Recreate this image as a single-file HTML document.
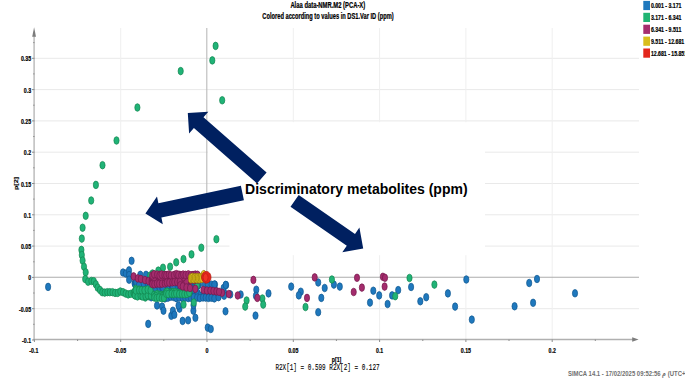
<!DOCTYPE html>
<html><head><meta charset="utf-8"><title>PCA loadings</title>
<style>html,body{margin:0;padding:0;background:#fff;}body{width:685px;height:390px;overflow:hidden;position:relative;font-family:"Liberation Sans",sans-serif;}</style></head>
<body>
<svg width="685" height="390" viewBox="0 0 685 390" style="position:absolute;left:0;top:0">
<rect width="685" height="390" fill="#fff"/>
<g stroke-width="1"><line stroke="#e9e9e9" x1="34.5" x2="639" y1="58.3" y2="58.3"/><line stroke="#e9e9e9" x1="34.5" x2="639" y1="89.6" y2="89.6"/><line stroke="#e9e9e9" x1="34.5" x2="639" y1="120.9" y2="120.9"/><line stroke="#e9e9e9" x1="34.5" x2="639" y1="152.2" y2="152.2"/><line stroke="#e9e9e9" x1="34.5" x2="639" y1="183.5" y2="183.5"/><line stroke="#e9e9e9" x1="34.5" x2="639" y1="214.8" y2="214.8"/><line stroke="#e9e9e9" x1="34.5" x2="639" y1="246.1" y2="246.1"/><line stroke="#e9e9e9" x1="34.5" x2="639" y1="308.7" y2="308.7"/><line stroke="#efefef" y1="28" y2="339.5" x1="120.7" x2="120.7"/><line stroke="#efefef" y1="28" y2="339.5" x1="293.3" x2="293.3"/><line stroke="#efefef" y1="28" y2="339.5" x1="379.6" x2="379.6"/><line stroke="#efefef" y1="28" y2="339.5" x1="465.9" x2="465.9"/><line stroke="#efefef" y1="28" y2="339.5" x1="552.2" x2="552.2"/></g>
<rect x="229.5" y="122.2" width="255.5" height="133" fill="#fff"/>
<rect x="207.8" y="122.2" width="30" height="50" fill="#fff"/>
<line stroke="#adadad" stroke-width="1.1" x1="34.5" x2="639" y1="277.3" y2="277.3"/><line stroke="#bababa" stroke-width="1.1" x1="206.8" x2="206.8" y1="28" y2="339.5"/>
<g stroke="#8c8c8c" stroke-width="1"><line stroke="#b8b8b8" stroke-width="1.4" x1="34.1" x2="34.1" y1="34" y2="340"/><line stroke="#b0b0b0" stroke-width="1.3" x1="33.4" x2="633" y1="339.5" y2="339.5"/><line x1="32" x2="34.5" y1="58.3" y2="58.3"/><line x1="32" x2="34.5" y1="89.6" y2="89.6"/><line x1="32" x2="34.5" y1="120.9" y2="120.9"/><line x1="32" x2="34.5" y1="152.2" y2="152.2"/><line x1="32" x2="34.5" y1="183.5" y2="183.5"/><line x1="32" x2="34.5" y1="214.8" y2="214.8"/><line x1="32" x2="34.5" y1="246.1" y2="246.1"/><line x1="32" x2="34.5" y1="277.4" y2="277.4"/><line x1="32" x2="34.5" y1="308.7" y2="308.7"/><line x1="32" x2="34.5" y1="340.0" y2="340.0"/><line x1="33.2" x2="34.5" y1="42.6" y2="42.6"/><line x1="33.2" x2="34.5" y1="73.9" y2="73.9"/><line x1="33.2" x2="34.5" y1="105.2" y2="105.2"/><line x1="33.2" x2="34.5" y1="136.5" y2="136.5"/><line x1="33.2" x2="34.5" y1="167.8" y2="167.8"/><line x1="33.2" x2="34.5" y1="199.1" y2="199.1"/><line x1="33.2" x2="34.5" y1="230.4" y2="230.4"/><line x1="33.2" x2="34.5" y1="261.8" y2="261.8"/><line x1="33.2" x2="34.5" y1="293.0" y2="293.0"/><line x1="33.2" x2="34.5" y1="324.3" y2="324.3"/><line y1="339.5" y2="342" x1="34.4" x2="34.4"/><line y1="339.5" y2="342" x1="120.7" x2="120.7"/><line y1="339.5" y2="342" x1="207.0" x2="207.0"/><line y1="339.5" y2="342" x1="293.3" x2="293.3"/><line y1="339.5" y2="342" x1="379.6" x2="379.6"/><line y1="339.5" y2="342" x1="465.9" x2="465.9"/><line y1="339.5" y2="342" x1="552.2" x2="552.2"/><line y1="339.5" y2="341" x1="77.6" x2="77.6"/><line y1="339.5" y2="341" x1="163.8" x2="163.8"/><line y1="339.5" y2="341" x1="250.2" x2="250.2"/><line y1="339.5" y2="341" x1="336.4" x2="336.4"/><line y1="339.5" y2="341" x1="422.8" x2="422.8"/><line y1="339.5" y2="341" x1="509.0" x2="509.0"/><line y1="339.5" y2="341" x1="595.3" x2="595.3"/></g>
<path d="M34.1 27.3 L32.2 36.7 L36 36.7 Z" fill="#7c7c7c"/>
<path d="M638.6 339.5 L632.2 337.3 L632.2 341.7 Z" fill="#7c7c7c"/>
<g fill="#1f78bd" stroke="#10578f" stroke-width="0.7"><ellipse cx="48.1" cy="286.9" rx="2.6" ry="3.8"/><ellipse cx="131.6" cy="260.8" rx="2.6" ry="3.8"/><ellipse cx="123" cy="272.5" rx="2.6" ry="3.8"/><ellipse cx="125.8" cy="273.5" rx="2.6" ry="3.8"/><ellipse cx="129" cy="270.4" rx="2.6" ry="3.8"/><ellipse cx="129.1" cy="275.1" rx="2.6" ry="3.8"/><ellipse cx="129.1" cy="279.7" rx="2.6" ry="3.8"/><ellipse cx="148.2" cy="323.9" rx="2.6" ry="3.8"/><ellipse cx="157" cy="305.5" rx="2.6" ry="3.8"/><ellipse cx="162.1" cy="306.6" rx="2.6" ry="3.8"/><ellipse cx="163.5" cy="310.7" rx="2.6" ry="3.8"/><ellipse cx="171.3" cy="315.8" rx="2.6" ry="3.8"/><ellipse cx="172.9" cy="310.7" rx="2.6" ry="3.8"/><ellipse cx="174.4" cy="314.7" rx="2.6" ry="3.8"/><ellipse cx="179.5" cy="308.6" rx="2.6" ry="3.8"/><ellipse cx="178.5" cy="305.5" rx="2.6" ry="3.8"/><ellipse cx="182.6" cy="320.9" rx="2.6" ry="3.8"/><ellipse cx="188.1" cy="320.3" rx="2.6" ry="3.8"/><ellipse cx="193.4" cy="310.7" rx="2.6" ry="3.8"/><ellipse cx="195.4" cy="317.8" rx="2.6" ry="3.8"/><ellipse cx="193.5" cy="305" rx="2.6" ry="3.8"/><ellipse cx="207.7" cy="327.6" rx="2.6" ry="3.8"/><ellipse cx="210.8" cy="329" rx="2.6" ry="3.8"/><ellipse cx="225.5" cy="311.3" rx="2.6" ry="3.8"/><ellipse cx="226.1" cy="285.1" rx="2.6" ry="3.8"/><ellipse cx="240.7" cy="294.5" rx="2.6" ry="3.8"/><ellipse cx="218.3" cy="296.3" rx="2.6" ry="3.8"/><ellipse cx="224.2" cy="292.7" rx="2.6" ry="3.8"/><ellipse cx="218.1" cy="295.8" rx="2.6" ry="3.8"/><ellipse cx="215" cy="284.6" rx="2.6" ry="3.8"/><ellipse cx="230.3" cy="294.4" rx="2.6" ry="3.8"/><ellipse cx="256.3" cy="289.7" rx="2.6" ry="3.8"/><ellipse cx="255.9" cy="295.8" rx="2.6" ry="3.8"/><ellipse cx="268.5" cy="293.4" rx="2.6" ry="3.8"/><ellipse cx="255.5" cy="315.6" rx="2.6" ry="3.8"/><ellipse cx="291.2" cy="286.6" rx="2.6" ry="3.8"/><ellipse cx="300.8" cy="291.7" rx="2.6" ry="3.8"/><ellipse cx="298.8" cy="295.4" rx="2.6" ry="3.8"/><ellipse cx="318.2" cy="282.5" rx="2.6" ry="3.8"/><ellipse cx="324.7" cy="288" rx="2.6" ry="3.8"/><ellipse cx="321.3" cy="297.9" rx="2.6" ry="3.8"/><ellipse cx="318.2" cy="312.2" rx="2.6" ry="3.8"/><ellipse cx="333.9" cy="284.6" rx="2.6" ry="3.8"/><ellipse cx="339.8" cy="286.6" rx="2.6" ry="3.8"/><ellipse cx="373.3" cy="290.7" rx="2.6" ry="3.8"/><ellipse cx="370" cy="302.6" rx="2.6" ry="3.8"/><ellipse cx="379.2" cy="295.4" rx="2.6" ry="3.8"/><ellipse cx="387.6" cy="304" rx="2.6" ry="3.8"/><ellipse cx="392.1" cy="295.4" rx="2.6" ry="3.8"/><ellipse cx="398.2" cy="290.1" rx="2.6" ry="3.8"/><ellipse cx="411.1" cy="287" rx="2.6" ry="3.8"/><ellipse cx="420.3" cy="301.3" rx="2.6" ry="3.8"/><ellipse cx="426.2" cy="297.2" rx="2.6" ry="3.8"/><ellipse cx="447.9" cy="293.4" rx="2.6" ry="3.8"/><ellipse cx="455.1" cy="306.6" rx="2.6" ry="3.8"/><ellipse cx="466.3" cy="279.5" rx="2.6" ry="3.8"/><ellipse cx="471.8" cy="319.6" rx="2.6" ry="3.8"/><ellipse cx="514.6" cy="306.3" rx="2.6" ry="3.8"/><ellipse cx="529.2" cy="283" rx="2.6" ry="3.8"/><ellipse cx="537" cy="279" rx="2.6" ry="3.8"/><ellipse cx="533.1" cy="302.8" rx="2.6" ry="3.8"/><ellipse cx="575" cy="293.3" rx="2.6" ry="3.8"/><ellipse cx="139.2" cy="282.2" rx="2.6" ry="3.8"/><ellipse cx="144.4" cy="281.8" rx="2.6" ry="3.8"/><ellipse cx="142.6" cy="283.1" rx="2.6" ry="3.8"/><ellipse cx="134.9" cy="283.8" rx="2.6" ry="3.8"/><ellipse cx="134.6" cy="283.5" rx="2.6" ry="3.8"/><ellipse cx="135.1" cy="281.9" rx="2.6" ry="3.8"/><ellipse cx="140.8" cy="285.2" rx="2.6" ry="3.8"/><ellipse cx="136.0" cy="282.5" rx="2.6" ry="3.8"/><ellipse cx="144.0" cy="285.8" rx="2.6" ry="3.8"/><ellipse cx="143.2" cy="283.3" rx="2.6" ry="3.8"/><ellipse cx="149.6" cy="281.7" rx="2.6" ry="3.8"/><ellipse cx="147.7" cy="282.8" rx="2.6" ry="3.8"/><ellipse cx="136.3" cy="282.0" rx="2.6" ry="3.8"/><ellipse cx="138.9" cy="285.2" rx="2.6" ry="3.8"/><ellipse cx="159.0" cy="291.7" rx="2.6" ry="3.8"/><ellipse cx="181.9" cy="288.6" rx="2.6" ry="3.8"/><ellipse cx="177.4" cy="283.9" rx="2.6" ry="3.8"/><ellipse cx="153.0" cy="286.1" rx="2.6" ry="3.8"/><ellipse cx="184.0" cy="289.4" rx="2.6" ry="3.8"/><ellipse cx="165.7" cy="291.8" rx="2.6" ry="3.8"/><ellipse cx="172.7" cy="287.5" rx="2.6" ry="3.8"/><ellipse cx="189.7" cy="293.5" rx="2.6" ry="3.8"/><ellipse cx="162.2" cy="291.6" rx="2.6" ry="3.8"/><ellipse cx="176.3" cy="296.1" rx="2.6" ry="3.8"/><ellipse cx="186.5" cy="287.3" rx="2.6" ry="3.8"/><ellipse cx="199.0" cy="284.8" rx="2.6" ry="3.8"/><ellipse cx="170.9" cy="294.4" rx="2.6" ry="3.8"/><ellipse cx="157.6" cy="290.3" rx="2.6" ry="3.8"/><ellipse cx="152.0" cy="293.0" rx="2.6" ry="3.8"/><ellipse cx="188.2" cy="291.6" rx="2.6" ry="3.8"/><ellipse cx="193.8" cy="287.7" rx="2.6" ry="3.8"/><ellipse cx="184.8" cy="291.9" rx="2.6" ry="3.8"/><ellipse cx="179.0" cy="289.8" rx="2.6" ry="3.8"/><ellipse cx="192.0" cy="297.2" rx="2.6" ry="3.8"/><ellipse cx="173.7" cy="293.0" rx="2.6" ry="3.8"/><ellipse cx="153.0" cy="293.5" rx="2.6" ry="3.8"/><ellipse cx="182.4" cy="297.9" rx="2.6" ry="3.8"/><ellipse cx="191.1" cy="287.3" rx="2.6" ry="3.8"/><ellipse cx="169.3" cy="293.0" rx="2.6" ry="3.8"/><ellipse cx="151.1" cy="289.9" rx="2.6" ry="3.8"/><ellipse cx="158.4" cy="284.8" rx="2.6" ry="3.8"/><ellipse cx="152.9" cy="294.5" rx="2.6" ry="3.8"/><ellipse cx="156.5" cy="286.7" rx="2.6" ry="3.8"/><ellipse cx="169.5" cy="296.1" rx="2.6" ry="3.8"/><ellipse cx="154.0" cy="289.7" rx="2.6" ry="3.8"/><ellipse cx="177.5" cy="296.3" rx="2.6" ry="3.8"/><ellipse cx="191.0" cy="296.0" rx="2.6" ry="3.8"/><ellipse cx="163.9" cy="289.2" rx="2.6" ry="3.8"/><ellipse cx="167.9" cy="296.3" rx="2.6" ry="3.8"/><ellipse cx="197.9" cy="285.3" rx="2.6" ry="3.8"/><ellipse cx="158.8" cy="286.5" rx="2.6" ry="3.8"/><ellipse cx="161.7" cy="290.3" rx="2.6" ry="3.8"/><ellipse cx="179.5" cy="286.9" rx="2.6" ry="3.8"/><ellipse cx="150.2" cy="289.3" rx="2.6" ry="3.8"/><ellipse cx="168.5" cy="291.5" rx="2.6" ry="3.8"/><ellipse cx="197.7" cy="293.4" rx="2.6" ry="3.8"/><ellipse cx="175.8" cy="292.3" rx="2.6" ry="3.8"/><ellipse cx="183.8" cy="283.8" rx="2.6" ry="3.8"/><ellipse cx="195.0" cy="294.7" rx="2.6" ry="3.8"/><ellipse cx="193.7" cy="295.0" rx="2.6" ry="3.8"/><ellipse cx="169.6" cy="289.0" rx="2.6" ry="3.8"/><ellipse cx="155.2" cy="292.5" rx="2.6" ry="3.8"/><ellipse cx="153.1" cy="284.0" rx="2.6" ry="3.8"/><ellipse cx="160.4" cy="285.4" rx="2.6" ry="3.8"/><ellipse cx="167.0" cy="283.8" rx="2.6" ry="3.8"/><ellipse cx="150.0" cy="285.3" rx="2.6" ry="3.8"/><ellipse cx="155.1" cy="288.5" rx="2.6" ry="3.8"/><ellipse cx="151.3" cy="296.1" rx="2.6" ry="3.8"/><ellipse cx="180.7" cy="285.2" rx="2.6" ry="3.8"/><ellipse cx="162.6" cy="288.2" rx="2.6" ry="3.8"/><ellipse cx="168.2" cy="284.8" rx="2.6" ry="3.8"/><ellipse cx="192.4" cy="297.9" rx="2.6" ry="3.8"/><ellipse cx="173.3" cy="290.3" rx="2.6" ry="3.8"/><ellipse cx="154.3" cy="284.5" rx="2.6" ry="3.8"/><ellipse cx="167.1" cy="287.0" rx="2.6" ry="3.8"/><ellipse cx="191.4" cy="285.4" rx="2.6" ry="3.8"/><ellipse cx="151.2" cy="297.3" rx="2.6" ry="3.8"/><ellipse cx="176.4" cy="285.2" rx="2.6" ry="3.8"/><ellipse cx="177.2" cy="283.4" rx="2.6" ry="3.8"/><ellipse cx="176.4" cy="297.7" rx="2.6" ry="3.8"/><ellipse cx="193.2" cy="293.4" rx="2.6" ry="3.8"/><ellipse cx="163.1" cy="288.5" rx="2.6" ry="3.8"/><ellipse cx="158.4" cy="294.6" rx="2.6" ry="3.8"/><ellipse cx="176.6" cy="294.7" rx="2.6" ry="3.8"/><ellipse cx="195.9" cy="288.3" rx="2.6" ry="3.8"/><ellipse cx="210.3" cy="296.3" rx="2.6" ry="3.8"/><ellipse cx="211.6" cy="294.5" rx="2.6" ry="3.8"/><ellipse cx="210.5" cy="293.8" rx="2.6" ry="3.8"/><ellipse cx="192.8" cy="291.4" rx="2.6" ry="3.8"/><ellipse cx="196.7" cy="286.3" rx="2.6" ry="3.8"/><ellipse cx="186.8" cy="288.9" rx="2.6" ry="3.8"/><ellipse cx="193.8" cy="293.3" rx="2.6" ry="3.8"/><ellipse cx="214.7" cy="290.7" rx="2.6" ry="3.8"/><ellipse cx="214.1" cy="296.4" rx="2.6" ry="3.8"/><ellipse cx="214.7" cy="289.8" rx="2.6" ry="3.8"/><ellipse cx="192.6" cy="288.4" rx="2.6" ry="3.8"/><ellipse cx="191.9" cy="288.1" rx="2.6" ry="3.8"/><ellipse cx="204.7" cy="295.5" rx="2.6" ry="3.8"/><ellipse cx="211.2" cy="291.0" rx="2.6" ry="3.8"/><ellipse cx="205.6" cy="294.4" rx="2.6" ry="3.8"/><ellipse cx="188.5" cy="292.9" rx="2.6" ry="3.8"/><ellipse cx="213.3" cy="294.2" rx="2.6" ry="3.8"/><ellipse cx="208.5" cy="291.0" rx="2.6" ry="3.8"/><ellipse cx="191.4" cy="294.3" rx="2.6" ry="3.8"/><ellipse cx="196.0" cy="294.4" rx="2.6" ry="3.8"/><ellipse cx="215.1" cy="290.2" rx="2.6" ry="3.8"/><ellipse cx="198.0" cy="295.9" rx="2.6" ry="3.8"/><ellipse cx="207.7" cy="287.8" rx="2.6" ry="3.8"/><ellipse cx="189.8" cy="287.6" rx="2.6" ry="3.8"/><ellipse cx="213.1" cy="294.5" rx="2.6" ry="3.8"/><ellipse cx="190.4" cy="294.7" rx="2.6" ry="3.8"/><ellipse cx="215.4" cy="292.9" rx="2.6" ry="3.8"/><ellipse cx="196.5" cy="291.8" rx="2.6" ry="3.8"/><ellipse cx="189.9" cy="286.1" rx="2.6" ry="3.8"/><ellipse cx="215.1" cy="292.8" rx="2.6" ry="3.8"/><ellipse cx="201.8" cy="295.8" rx="2.6" ry="3.8"/><ellipse cx="199.0" cy="295.2" rx="2.6" ry="3.8"/><ellipse cx="210.8" cy="288.2" rx="2.6" ry="3.8"/><ellipse cx="193.6" cy="289.1" rx="2.6" ry="3.8"/><ellipse cx="193.2" cy="292.2" rx="2.6" ry="3.8"/><ellipse cx="193.8" cy="290.4" rx="2.6" ry="3.8"/><ellipse cx="189.9" cy="295.6" rx="2.6" ry="3.8"/><ellipse cx="196.6" cy="290.8" rx="2.6" ry="3.8"/><ellipse cx="203.5" cy="295.5" rx="2.6" ry="3.8"/><ellipse cx="164.9" cy="298.4" rx="2.6" ry="3.8"/><ellipse cx="167.9" cy="297.7" rx="2.6" ry="3.8"/><ellipse cx="170.8" cy="296.7" rx="2.6" ry="3.8"/><ellipse cx="173.7" cy="297.0" rx="2.6" ry="3.8"/><ellipse cx="176.2" cy="298.1" rx="2.6" ry="3.8"/><ellipse cx="179.2" cy="297.6" rx="2.6" ry="3.8"/><ellipse cx="182.6" cy="297.7" rx="2.6" ry="3.8"/><ellipse cx="185.2" cy="297.6" rx="2.6" ry="3.8"/><ellipse cx="188.2" cy="298.1" rx="2.6" ry="3.8"/><ellipse cx="190.8" cy="297.7" rx="2.6" ry="3.8"/><ellipse cx="193.8" cy="297.2" rx="2.6" ry="3.8"/><ellipse cx="197.1" cy="297.6" rx="2.6" ry="3.8"/><ellipse cx="199.8" cy="298.1" rx="2.6" ry="3.8"/><ellipse cx="203.0" cy="297.5" rx="2.6" ry="3.8"/><ellipse cx="205.7" cy="297.6" rx="2.6" ry="3.8"/><ellipse cx="208.5" cy="297.9" rx="2.6" ry="3.8"/><ellipse cx="211.4" cy="297.7" rx="2.6" ry="3.8"/><ellipse cx="214.3" cy="298.4" rx="2.6" ry="3.8"/><ellipse cx="153.2" cy="288.2" rx="2.6" ry="3.8"/><ellipse cx="156.3" cy="287.2" rx="2.6" ry="3.8"/><ellipse cx="158.8" cy="288.3" rx="2.6" ry="3.8"/><ellipse cx="162.0" cy="287.0" rx="2.6" ry="3.8"/><ellipse cx="164.3" cy="287.5" rx="2.6" ry="3.8"/><ellipse cx="204.7" cy="284.0" rx="2.6" ry="3.8"/><ellipse cx="207.9" cy="284.5" rx="2.6" ry="3.8"/><ellipse cx="211.6" cy="284.7" rx="2.6" ry="3.8"/><ellipse cx="214.3" cy="284.5" rx="2.6" ry="3.8"/><ellipse cx="146" cy="274.8" rx="2.6" ry="3.8"/><ellipse cx="140.3" cy="274.8" rx="2.6" ry="3.8"/><ellipse cx="223.6" cy="288" rx="2.6" ry="3.8"/><ellipse cx="225.7" cy="284.9" rx="2.6" ry="3.8"/><ellipse cx="218.5" cy="297.2" rx="2.6" ry="3.8"/><ellipse cx="224.1" cy="295.7" rx="2.6" ry="3.8"/><ellipse cx="163" cy="288.2" rx="2.6" ry="3.8"/><ellipse cx="173" cy="286.6" rx="2.6" ry="3.8"/><ellipse cx="154.5" cy="288.5" rx="2.6" ry="3.8"/><ellipse cx="155" cy="291" rx="2.6" ry="3.8"/></g>

<g fill="#20b377" stroke="#13854f" stroke-width="0.7"><ellipse cx="215.6" cy="45.9" rx="2.6" ry="3.8"/><ellipse cx="212.3" cy="60.4" rx="2.6" ry="3.8"/><ellipse cx="180.7" cy="71.1" rx="2.6" ry="3.8"/><ellipse cx="222.2" cy="100.3" rx="2.6" ry="3.8"/><ellipse cx="137.4" cy="107.5" rx="2.6" ry="3.8"/><ellipse cx="116.5" cy="140.5" rx="2.6" ry="3.8"/><ellipse cx="102.5" cy="165.2" rx="2.6" ry="3.8"/><ellipse cx="95.9" cy="184.9" rx="2.6" ry="3.8"/><ellipse cx="91.2" cy="200.5" rx="2.6" ry="3.8"/><ellipse cx="85.7" cy="215.8" rx="2.6" ry="3.8"/><ellipse cx="82.6" cy="227.7" rx="2.6" ry="3.8"/><ellipse cx="81.8" cy="238.6" rx="2.6" ry="3.8"/><ellipse cx="81.4" cy="249.9" rx="2.6" ry="3.8"/><ellipse cx="81.8" cy="255" rx="2.6" ry="3.8"/><ellipse cx="82.6" cy="260.6" rx="2.6" ry="3.8"/><ellipse cx="84" cy="266.7" rx="2.6" ry="3.8"/><ellipse cx="85.7" cy="272.3" rx="2.6" ry="3.8"/><ellipse cx="85.2" cy="279.1" rx="2.6" ry="3.8"/><ellipse cx="88.1" cy="281.7" rx="2.6" ry="3.8"/><ellipse cx="91.4" cy="281" rx="2.6" ry="3.8"/><ellipse cx="93.8" cy="281.2" rx="2.6" ry="3.8"/><ellipse cx="95.8" cy="284.3" rx="2.6" ry="3.8"/><ellipse cx="97.6" cy="287.6" rx="2.6" ry="3.8"/><ellipse cx="100" cy="290" rx="2.6" ry="3.8"/><ellipse cx="102.2" cy="292.2" rx="2.6" ry="3.8"/><ellipse cx="104.7" cy="292.6" rx="2.6" ry="3.8"/><ellipse cx="107.3" cy="292.2" rx="2.6" ry="3.8"/><ellipse cx="109.8" cy="292.2" rx="2.6" ry="3.8"/><ellipse cx="112.5" cy="292.2" rx="2.6" ry="3.8"/><ellipse cx="115.1" cy="292.9" rx="2.6" ry="3.8"/><ellipse cx="117.7" cy="292.9" rx="2.6" ry="3.8"/><ellipse cx="120.3" cy="291.5" rx="2.6" ry="3.8"/><ellipse cx="123" cy="292.2" rx="2.6" ry="3.8"/><ellipse cx="125.6" cy="293.5" rx="2.6" ry="3.8"/><ellipse cx="128.2" cy="294.4" rx="2.6" ry="3.8"/><ellipse cx="130.8" cy="293.8" rx="2.6" ry="3.8"/><ellipse cx="133.5" cy="292.9" rx="2.6" ry="3.8"/><ellipse cx="135.7" cy="288.9" rx="2.6" ry="3.8"/><ellipse cx="139.1" cy="289.6" rx="2.6" ry="3.8"/><ellipse cx="142.7" cy="290.9" rx="2.6" ry="3.8"/><ellipse cx="141.4" cy="296.1" rx="2.6" ry="3.8"/><ellipse cx="145.3" cy="297.5" rx="2.6" ry="3.8"/><ellipse cx="148.6" cy="296.1" rx="2.6" ry="3.8"/><ellipse cx="151.2" cy="293.1" rx="2.6" ry="3.8"/><ellipse cx="157.8" cy="294.8" rx="2.6" ry="3.8"/><ellipse cx="161.7" cy="294.8" rx="2.6" ry="3.8"/><ellipse cx="216.4" cy="239.2" rx="2.6" ry="3.8"/><ellipse cx="201.3" cy="247.7" rx="2.6" ry="3.8"/><ellipse cx="191.5" cy="254.4" rx="2.6" ry="3.8"/><ellipse cx="183.5" cy="259.1" rx="2.6" ry="3.8"/><ellipse cx="176.2" cy="262.3" rx="2.6" ry="3.8"/><ellipse cx="170.1" cy="266.7" rx="2.6" ry="3.8"/><ellipse cx="163" cy="267.7" rx="2.6" ry="3.8"/><ellipse cx="158.3" cy="270.6" rx="2.6" ry="3.8"/><ellipse cx="193.8" cy="302.5" rx="2.6" ry="3.8"/><ellipse cx="183.6" cy="304.5" rx="2.6" ry="3.8"/><ellipse cx="246.6" cy="300.5" rx="2.6" ry="3.8"/><ellipse cx="245.2" cy="306.6" rx="2.6" ry="3.8"/><ellipse cx="262.4" cy="298.5" rx="2.6" ry="3.8"/><ellipse cx="263.2" cy="304.6" rx="2.6" ry="3.8"/><ellipse cx="305.5" cy="307" rx="2.6" ry="3.8"/><ellipse cx="331.9" cy="279.5" rx="2.6" ry="3.8"/><ellipse cx="395.2" cy="296.2" rx="2.6" ry="3.8"/><ellipse cx="409.5" cy="278" rx="2.6" ry="3.8"/><ellipse cx="434.4" cy="284.6" rx="2.6" ry="3.8"/><ellipse cx="145.9" cy="290.8" rx="2.6" ry="3.8"/><ellipse cx="149.9" cy="295.4" rx="2.6" ry="3.8"/><ellipse cx="138.0" cy="295.3" rx="2.6" ry="3.8"/><ellipse cx="141.2" cy="292.7" rx="2.6" ry="3.8"/><ellipse cx="151.8" cy="294.7" rx="2.6" ry="3.8"/><ellipse cx="136.9" cy="292.4" rx="2.6" ry="3.8"/><ellipse cx="143.3" cy="291.9" rx="2.6" ry="3.8"/><ellipse cx="137.5" cy="291.8" rx="2.6" ry="3.8"/><ellipse cx="147.0" cy="290.1" rx="2.6" ry="3.8"/><ellipse cx="144.0" cy="292.5" rx="2.6" ry="3.8"/><ellipse cx="134.3" cy="291.9" rx="2.6" ry="3.8"/><ellipse cx="145.2" cy="292.9" rx="2.6" ry="3.8"/><ellipse cx="135.2" cy="295.5" rx="2.6" ry="3.8"/><ellipse cx="148.2" cy="295.4" rx="2.6" ry="3.8"/><ellipse cx="135.9" cy="291.5" rx="2.6" ry="3.8"/><ellipse cx="134.7" cy="294.4" rx="2.6" ry="3.8"/><ellipse cx="134.8" cy="295.3" rx="2.6" ry="3.8"/><ellipse cx="137.5" cy="296.4" rx="2.6" ry="3.8"/><ellipse cx="140.5" cy="295.5" rx="2.6" ry="3.8"/><ellipse cx="142.5" cy="296.4" rx="2.6" ry="3.8"/><ellipse cx="145.5" cy="296.1" rx="2.6" ry="3.8"/><ellipse cx="147.7" cy="295.2" rx="2.6" ry="3.8"/><ellipse cx="150.8" cy="295.7" rx="2.6" ry="3.8"/><ellipse cx="135.7" cy="290.4" rx="2.6" ry="3.8"/><ellipse cx="139.0" cy="290.2" rx="2.6" ry="3.8"/><ellipse cx="141.5" cy="290.3" rx="2.6" ry="3.8"/><ellipse cx="144.4" cy="290.3" rx="2.6" ry="3.8"/><ellipse cx="147.6" cy="289.6" rx="2.6" ry="3.8"/><ellipse cx="150.5" cy="290.4" rx="2.6" ry="3.8"/><ellipse cx="156.8" cy="294.8" rx="2.6" ry="3.8"/><ellipse cx="160.1" cy="295.1" rx="2.6" ry="3.8"/><ellipse cx="154.9" cy="294.9" rx="2.6" ry="3.8"/><ellipse cx="154.1" cy="295.0" rx="2.6" ry="3.8"/><ellipse cx="157.4" cy="295.4" rx="2.6" ry="3.8"/><ellipse cx="163.0" cy="295.3" rx="2.6" ry="3.8"/><ellipse cx="159.8" cy="294.9" rx="2.6" ry="3.8"/><ellipse cx="157.8" cy="294.4" rx="2.6" ry="3.8"/><ellipse cx="156.6" cy="294.4" rx="2.6" ry="3.8"/><ellipse cx="162.7" cy="296.2" rx="2.6" ry="3.8"/><ellipse cx="155.9" cy="296.0" rx="2.6" ry="3.8"/><ellipse cx="165.2" cy="294.7" rx="2.6" ry="3.8"/><ellipse cx="154.3" cy="297.5" rx="2.6" ry="3.8"/><ellipse cx="156.5" cy="298.0" rx="2.6" ry="3.8"/><ellipse cx="158.9" cy="297.6" rx="2.6" ry="3.8"/><ellipse cx="161.7" cy="298.2" rx="2.6" ry="3.8"/><ellipse cx="163.9" cy="298.0" rx="2.6" ry="3.8"/><ellipse cx="183.0" cy="293.1" rx="2.6" ry="3.8"/><ellipse cx="175.7" cy="292.4" rx="2.6" ry="3.8"/><ellipse cx="167.3" cy="291.9" rx="2.6" ry="3.8"/><ellipse cx="167.7" cy="293.4" rx="2.6" ry="3.8"/><ellipse cx="172.1" cy="292.0" rx="2.6" ry="3.8"/><ellipse cx="168.0" cy="293.6" rx="2.6" ry="3.8"/><ellipse cx="186.9" cy="293.2" rx="2.6" ry="3.8"/><ellipse cx="172.8" cy="292.2" rx="2.6" ry="3.8"/><ellipse cx="173.0" cy="292.7" rx="2.6" ry="3.8"/><ellipse cx="169.8" cy="292.7" rx="2.6" ry="3.8"/><ellipse cx="172.3" cy="293.9" rx="2.6" ry="3.8"/><ellipse cx="189.3" cy="292.9" rx="2.6" ry="3.8"/><ellipse cx="171.9" cy="293.9" rx="2.6" ry="3.8"/><ellipse cx="173.4" cy="292.5" rx="2.6" ry="3.8"/><ellipse cx="166.0" cy="292.5" rx="2.6" ry="3.8"/><ellipse cx="177.4" cy="292.8" rx="2.6" ry="3.8"/><ellipse cx="170.8" cy="292.8" rx="2.6" ry="3.8"/><ellipse cx="166.1" cy="292.2" rx="2.6" ry="3.8"/><ellipse cx="168.2" cy="292.6" rx="2.6" ry="3.8"/><ellipse cx="167.0" cy="291.7" rx="2.6" ry="3.8"/><ellipse cx="173.3" cy="292.2" rx="2.6" ry="3.8"/><ellipse cx="180.1" cy="292.9" rx="2.6" ry="3.8"/><ellipse cx="184.0" cy="293.2" rx="2.6" ry="3.8"/><ellipse cx="183.2" cy="293.7" rx="2.6" ry="3.8"/><ellipse cx="175.3" cy="292.4" rx="2.6" ry="3.8"/><ellipse cx="189.6" cy="292.0" rx="2.6" ry="3.8"/><ellipse cx="166.2" cy="293.8" rx="2.6" ry="3.8"/><ellipse cx="168.2" cy="294.1" rx="2.6" ry="3.8"/><ellipse cx="171.5" cy="293.8" rx="2.6" ry="3.8"/><ellipse cx="174.0" cy="294.1" rx="2.6" ry="3.8"/><ellipse cx="176.1" cy="293.6" rx="2.6" ry="3.8"/><ellipse cx="179.0" cy="294.1" rx="2.6" ry="3.8"/><ellipse cx="181.8" cy="294.1" rx="2.6" ry="3.8"/><ellipse cx="184.3" cy="294.2" rx="2.6" ry="3.8"/><ellipse cx="186.9" cy="293.9" rx="2.6" ry="3.8"/><ellipse cx="189.2" cy="292.8" rx="2.6" ry="3.8"/><ellipse cx="185.6" cy="282.8" rx="2.6" ry="3.8"/><ellipse cx="197" cy="285.4" rx="2.6" ry="3.8"/><ellipse cx="152.5" cy="273.5" rx="2.6" ry="3.8"/><ellipse cx="150.2" cy="275.5" rx="2.6" ry="3.8"/></g>

<g fill="#a42c6d" stroke="#74194a" stroke-width="0.7"><ellipse cx="222.1" cy="292.7" rx="2.6" ry="3.8"/><ellipse cx="228.8" cy="294" rx="2.6" ry="3.8"/><ellipse cx="237.7" cy="295.5" rx="2.6" ry="3.8"/><ellipse cx="253.4" cy="279.9" rx="2.6" ry="3.8"/><ellipse cx="257.3" cy="297.9" rx="2.6" ry="3.8"/><ellipse cx="307" cy="297.9" rx="2.6" ry="3.8"/><ellipse cx="314.7" cy="277.4" rx="2.6" ry="3.8"/><ellipse cx="353.7" cy="292" rx="2.6" ry="3.8"/><ellipse cx="357" cy="277.8" rx="2.6" ry="3.8"/><ellipse cx="361.9" cy="287.6" rx="2.6" ry="3.8"/><ellipse cx="382.9" cy="276.8" rx="2.6" ry="3.8"/><ellipse cx="385" cy="277.8" rx="2.6" ry="3.8"/><ellipse cx="384.6" cy="286.6" rx="2.6" ry="3.8"/><ellipse cx="133.6" cy="276.4" rx="2.6" ry="3.8"/><ellipse cx="137.8" cy="278.4" rx="2.6" ry="3.8"/><ellipse cx="140.8" cy="278.9" rx="2.6" ry="3.8"/><ellipse cx="144.9" cy="280" rx="2.6" ry="3.8"/><ellipse cx="148.5" cy="281" rx="2.6" ry="3.8"/><ellipse cx="157.8" cy="278.1" rx="2.6" ry="3.8"/><ellipse cx="156.5" cy="282.5" rx="2.6" ry="3.8"/><ellipse cx="178.0" cy="279.2" rx="2.6" ry="3.8"/><ellipse cx="181.2" cy="279.4" rx="2.6" ry="3.8"/><ellipse cx="174.7" cy="274.9" rx="2.6" ry="3.8"/><ellipse cx="189.4" cy="279.2" rx="2.6" ry="3.8"/><ellipse cx="175.4" cy="278.7" rx="2.6" ry="3.8"/><ellipse cx="182.8" cy="275.3" rx="2.6" ry="3.8"/><ellipse cx="186.5" cy="276.4" rx="2.6" ry="3.8"/><ellipse cx="155.0" cy="277.3" rx="2.6" ry="3.8"/><ellipse cx="186.1" cy="276.1" rx="2.6" ry="3.8"/><ellipse cx="186.6" cy="280.8" rx="2.6" ry="3.8"/><ellipse cx="175.0" cy="277.7" rx="2.6" ry="3.8"/><ellipse cx="174.3" cy="279.9" rx="2.6" ry="3.8"/><ellipse cx="187.9" cy="278.5" rx="2.6" ry="3.8"/><ellipse cx="182.0" cy="275.4" rx="2.6" ry="3.8"/><ellipse cx="158.5" cy="277.1" rx="2.6" ry="3.8"/><ellipse cx="186.8" cy="276.7" rx="2.6" ry="3.8"/><ellipse cx="178.5" cy="275.0" rx="2.6" ry="3.8"/><ellipse cx="154.4" cy="277.4" rx="2.6" ry="3.8"/><ellipse cx="183.4" cy="279.3" rx="2.6" ry="3.8"/><ellipse cx="183.6" cy="276.7" rx="2.6" ry="3.8"/><ellipse cx="176.0" cy="278.2" rx="2.6" ry="3.8"/><ellipse cx="173.7" cy="275.8" rx="2.6" ry="3.8"/><ellipse cx="193.9" cy="276.0" rx="2.6" ry="3.8"/><ellipse cx="198.0" cy="279.5" rx="2.6" ry="3.8"/><ellipse cx="152.3" cy="279.9" rx="2.6" ry="3.8"/><ellipse cx="190.4" cy="280.4" rx="2.6" ry="3.8"/><ellipse cx="172.8" cy="276.9" rx="2.6" ry="3.8"/><ellipse cx="161.5" cy="283.0" rx="2.6" ry="3.8"/><ellipse cx="161.5" cy="279.9" rx="2.6" ry="3.8"/><ellipse cx="158.2" cy="279.6" rx="2.6" ry="3.8"/><ellipse cx="196.8" cy="275.6" rx="2.6" ry="3.8"/><ellipse cx="190.5" cy="277.8" rx="2.6" ry="3.8"/><ellipse cx="193.6" cy="278.7" rx="2.6" ry="3.8"/><ellipse cx="162.5" cy="282.5" rx="2.6" ry="3.8"/><ellipse cx="174.6" cy="275.1" rx="2.6" ry="3.8"/><ellipse cx="151.7" cy="280.2" rx="2.6" ry="3.8"/><ellipse cx="172.9" cy="277.1" rx="2.6" ry="3.8"/><ellipse cx="158.2" cy="278.0" rx="2.6" ry="3.8"/><ellipse cx="166.5" cy="281.7" rx="2.6" ry="3.8"/><ellipse cx="151.6" cy="282.4" rx="2.6" ry="3.8"/><ellipse cx="191.4" cy="275.6" rx="2.6" ry="3.8"/><ellipse cx="195.5" cy="278.6" rx="2.6" ry="3.8"/><ellipse cx="194.3" cy="276.4" rx="2.6" ry="3.8"/><ellipse cx="169.2" cy="278.0" rx="2.6" ry="3.8"/><ellipse cx="198.9" cy="277.7" rx="2.6" ry="3.8"/><ellipse cx="168.6" cy="278.3" rx="2.6" ry="3.8"/><ellipse cx="164.6" cy="275.3" rx="2.6" ry="3.8"/><ellipse cx="156.3" cy="282.5" rx="2.6" ry="3.8"/><ellipse cx="165.1" cy="282.6" rx="2.6" ry="3.8"/><ellipse cx="163.3" cy="277.1" rx="2.6" ry="3.8"/><ellipse cx="175.8" cy="276.3" rx="2.6" ry="3.8"/><ellipse cx="169.2" cy="282.3" rx="2.6" ry="3.8"/><ellipse cx="193.5" cy="279.2" rx="2.6" ry="3.8"/><ellipse cx="181.5" cy="280.9" rx="2.6" ry="3.8"/><ellipse cx="196.2" cy="277.7" rx="2.6" ry="3.8"/><ellipse cx="185.7" cy="275.2" rx="2.6" ry="3.8"/><ellipse cx="186.3" cy="277.6" rx="2.6" ry="3.8"/><ellipse cx="187.3" cy="278.8" rx="2.6" ry="3.8"/><ellipse cx="165.1" cy="275.3" rx="2.6" ry="3.8"/><ellipse cx="195.5" cy="275.6" rx="2.6" ry="3.8"/><ellipse cx="173.9" cy="277.4" rx="2.6" ry="3.8"/><ellipse cx="165.6" cy="280.9" rx="2.6" ry="3.8"/><ellipse cx="197.9" cy="276.2" rx="2.6" ry="3.8"/><ellipse cx="182.7" cy="276.8" rx="2.6" ry="3.8"/><ellipse cx="178.0" cy="277.6" rx="2.6" ry="3.8"/><ellipse cx="159.4" cy="276.3" rx="2.6" ry="3.8"/><ellipse cx="161.4" cy="282.7" rx="2.6" ry="3.8"/><ellipse cx="175.1" cy="276.5" rx="2.6" ry="3.8"/><ellipse cx="194.5" cy="280.1" rx="2.6" ry="3.8"/><ellipse cx="172.9" cy="275.9" rx="2.6" ry="3.8"/><ellipse cx="160.6" cy="275.7" rx="2.6" ry="3.8"/><ellipse cx="167.7" cy="275.6" rx="2.6" ry="3.8"/><ellipse cx="162.9" cy="277.1" rx="2.6" ry="3.8"/><ellipse cx="178.6" cy="281.0" rx="2.6" ry="3.8"/><ellipse cx="187.1" cy="277.4" rx="2.6" ry="3.8"/><ellipse cx="171.2" cy="278.9" rx="2.6" ry="3.8"/><ellipse cx="169.4" cy="277.5" rx="2.6" ry="3.8"/><ellipse cx="154.4" cy="277.5" rx="2.6" ry="3.8"/><ellipse cx="197.5" cy="275.5" rx="2.6" ry="3.8"/><ellipse cx="175.4" cy="279.4" rx="2.6" ry="3.8"/><ellipse cx="192.5" cy="276.1" rx="2.6" ry="3.8"/><ellipse cx="164.4" cy="277.0" rx="2.6" ry="3.8"/><ellipse cx="170.5" cy="278.3" rx="2.6" ry="3.8"/><ellipse cx="196.8" cy="279.2" rx="2.6" ry="3.8"/><ellipse cx="193.0" cy="275.0" rx="2.6" ry="3.8"/><ellipse cx="153.0" cy="281.9" rx="2.6" ry="3.8"/><ellipse cx="194.0" cy="277.4" rx="2.6" ry="3.8"/><ellipse cx="179.4" cy="274.9" rx="2.6" ry="3.8"/><ellipse cx="170.1" cy="282.0" rx="2.6" ry="3.8"/><ellipse cx="190.7" cy="279.7" rx="2.6" ry="3.8"/><ellipse cx="197.7" cy="276.1" rx="2.6" ry="3.8"/><ellipse cx="156.7" cy="276.3" rx="2.6" ry="3.8"/><ellipse cx="176.3" cy="279.7" rx="2.6" ry="3.8"/><ellipse cx="196.2" cy="278.6" rx="2.6" ry="3.8"/><ellipse cx="182.2" cy="279.9" rx="2.6" ry="3.8"/><ellipse cx="173.2" cy="279.0" rx="2.6" ry="3.8"/><ellipse cx="153.4" cy="282.5" rx="2.6" ry="3.8"/><ellipse cx="162.5" cy="282.7" rx="2.6" ry="3.8"/><ellipse cx="182.2" cy="276.9" rx="2.6" ry="3.8"/><ellipse cx="157.6" cy="277.2" rx="2.6" ry="3.8"/><ellipse cx="181.7" cy="279.5" rx="2.6" ry="3.8"/><ellipse cx="156.8" cy="275.5" rx="2.6" ry="3.8"/><ellipse cx="176.4" cy="279.0" rx="2.6" ry="3.8"/><ellipse cx="169.9" cy="276.6" rx="2.6" ry="3.8"/><ellipse cx="180.1" cy="275.0" rx="2.6" ry="3.8"/><ellipse cx="165.8" cy="278.6" rx="2.6" ry="3.8"/><ellipse cx="197.0" cy="278.1" rx="2.6" ry="3.8"/><ellipse cx="193.5" cy="277.4" rx="2.6" ry="3.8"/><ellipse cx="162.7" cy="277.0" rx="2.6" ry="3.8"/><ellipse cx="197.1" cy="278.4" rx="2.6" ry="3.8"/><ellipse cx="166.1" cy="275.1" rx="2.6" ry="3.8"/><ellipse cx="175.2" cy="279.7" rx="2.6" ry="3.8"/><ellipse cx="171.5" cy="276.8" rx="2.6" ry="3.8"/><ellipse cx="183.2" cy="280.8" rx="2.6" ry="3.8"/><ellipse cx="162.3" cy="275.2" rx="2.6" ry="3.8"/><ellipse cx="167.6" cy="278.2" rx="2.6" ry="3.8"/><ellipse cx="183.9" cy="276.1" rx="2.6" ry="3.8"/><ellipse cx="189.4" cy="279.2" rx="2.6" ry="3.8"/><ellipse cx="175.5" cy="276.4" rx="2.6" ry="3.8"/><ellipse cx="197.6" cy="276.4" rx="2.6" ry="3.8"/><ellipse cx="190.5" cy="276.2" rx="2.6" ry="3.8"/><ellipse cx="162.0" cy="281.4" rx="2.6" ry="3.8"/><ellipse cx="165.5" cy="282.7" rx="2.6" ry="3.8"/><ellipse cx="175.0" cy="276.2" rx="2.6" ry="3.8"/><ellipse cx="162.1" cy="278.4" rx="2.6" ry="3.8"/><ellipse cx="183.1" cy="281.0" rx="2.6" ry="3.8"/><ellipse cx="158.5" cy="278.4" rx="2.6" ry="3.8"/><ellipse cx="161.6" cy="283.2" rx="2.6" ry="3.8"/><ellipse cx="158.2" cy="275.4" rx="2.6" ry="3.8"/><ellipse cx="154.4" cy="278.5" rx="2.6" ry="3.8"/><ellipse cx="194.2" cy="279.6" rx="2.6" ry="3.8"/><ellipse cx="186.3" cy="281.0" rx="2.6" ry="3.8"/><ellipse cx="195.8" cy="276.6" rx="2.6" ry="3.8"/><ellipse cx="160.3" cy="283.0" rx="2.6" ry="3.8"/><ellipse cx="186.9" cy="275.1" rx="2.6" ry="3.8"/><ellipse cx="183.1" cy="277.3" rx="2.6" ry="3.8"/><ellipse cx="169.3" cy="277.5" rx="2.6" ry="3.8"/><ellipse cx="159.5" cy="274.9" rx="2.6" ry="3.8"/><ellipse cx="164.8" cy="277.8" rx="2.6" ry="3.8"/><ellipse cx="196.9" cy="275.5" rx="2.6" ry="3.8"/><ellipse cx="197.3" cy="275.9" rx="2.6" ry="3.8"/><ellipse cx="168.4" cy="281.4" rx="2.6" ry="3.8"/><ellipse cx="190.5" cy="277.3" rx="2.6" ry="3.8"/><ellipse cx="153.8" cy="280.0" rx="2.6" ry="3.8"/><ellipse cx="169.2" cy="282.1" rx="2.6" ry="3.8"/><ellipse cx="160.7" cy="278.0" rx="2.6" ry="3.8"/><ellipse cx="194.1" cy="275.1" rx="2.6" ry="3.8"/><ellipse cx="171.0" cy="281.1" rx="2.6" ry="3.8"/><ellipse cx="152.2" cy="275.5" rx="2.6" ry="3.8"/><ellipse cx="154.0" cy="274.2" rx="2.6" ry="3.8"/><ellipse cx="157.1" cy="274.5" rx="2.6" ry="3.8"/><ellipse cx="159.4" cy="275.5" rx="2.6" ry="3.8"/><ellipse cx="161.5" cy="274.5" rx="2.6" ry="3.8"/><ellipse cx="164.4" cy="275.1" rx="2.6" ry="3.8"/><ellipse cx="166.2" cy="275.2" rx="2.6" ry="3.8"/><ellipse cx="168.7" cy="274.5" rx="2.6" ry="3.8"/><ellipse cx="170.8" cy="275.3" rx="2.6" ry="3.8"/><ellipse cx="173.9" cy="275.1" rx="2.6" ry="3.8"/><ellipse cx="176.4" cy="274.1" rx="2.6" ry="3.8"/><ellipse cx="178.2" cy="274.9" rx="2.6" ry="3.8"/><ellipse cx="181.2" cy="275.6" rx="2.6" ry="3.8"/><ellipse cx="183.1" cy="274.5" rx="2.6" ry="3.8"/><ellipse cx="185.5" cy="274.9" rx="2.6" ry="3.8"/><ellipse cx="188.3" cy="274.4" rx="2.6" ry="3.8"/><ellipse cx="190.6" cy="275.3" rx="2.6" ry="3.8"/><ellipse cx="193.1" cy="275.3" rx="2.6" ry="3.8"/><ellipse cx="195.3" cy="274.6" rx="2.6" ry="3.8"/><ellipse cx="197.5" cy="274.7" rx="2.6" ry="3.8"/><ellipse cx="152.2" cy="284.1" rx="2.6" ry="3.8"/><ellipse cx="154.3" cy="284.3" rx="2.6" ry="3.8"/><ellipse cx="156.8" cy="283.6" rx="2.6" ry="3.8"/><ellipse cx="159.1" cy="283.7" rx="2.6" ry="3.8"/><ellipse cx="161.9" cy="283.7" rx="2.6" ry="3.8"/><ellipse cx="164.8" cy="283.5" rx="2.6" ry="3.8"/><ellipse cx="166.8" cy="282.6" rx="2.6" ry="3.8"/><ellipse cx="169.2" cy="282.6" rx="2.6" ry="3.8"/><ellipse cx="172.2" cy="282.4" rx="2.6" ry="3.8"/><ellipse cx="174.3" cy="282.1" rx="2.6" ry="3.8"/><ellipse cx="177.1" cy="282.0" rx="2.6" ry="3.8"/><ellipse cx="179.7" cy="281.9" rx="2.6" ry="3.8"/><ellipse cx="180.2" cy="285.3" rx="2.6" ry="3.8"/><ellipse cx="182.8" cy="286.4" rx="2.6" ry="3.8"/><ellipse cx="186.4" cy="287.5" rx="2.6" ry="3.8"/><ellipse cx="190" cy="288" rx="2.6" ry="3.8"/><ellipse cx="195.3" cy="288.9" rx="2.6" ry="3.8"/><ellipse cx="203.4" cy="290" rx="2.6" ry="3.8"/><ellipse cx="206.9" cy="290.5" rx="2.6" ry="3.8"/><ellipse cx="210.3" cy="290.6" rx="2.6" ry="3.8"/><ellipse cx="213.4" cy="291" rx="2.6" ry="3.8"/><ellipse cx="216.4" cy="291.4" rx="2.6" ry="3.8"/><ellipse cx="219" cy="291.8" rx="2.6" ry="3.8"/></g>

<g fill="#dfc41e" stroke="#94790a" stroke-width="0.7"><ellipse cx="191.0" cy="278.4" rx="2.6" ry="4.6"/><ellipse cx="192.4" cy="277.8" rx="2.6" ry="4.6"/><ellipse cx="193.8" cy="278.5" rx="2.6" ry="4.6"/><ellipse cx="195.2" cy="278.0" rx="2.6" ry="4.6"/><ellipse cx="196.6" cy="278.3" rx="2.6" ry="4.6"/><ellipse cx="198.0" cy="278.1" rx="2.6" ry="4.6"/><ellipse cx="199.4" cy="278.4" rx="2.6" ry="4.6"/><ellipse cx="200.8" cy="277.9" rx="2.6" ry="4.6"/><ellipse cx="202.2" cy="277.9" rx="2.6" ry="4.6"/><ellipse cx="203.8" cy="275" rx="2.6" ry="4.6"/></g>

<g fill="#e3261c" stroke="#b81a12" stroke-width="0.8"><ellipse cx="206.3" cy="277.3" rx="4.7" ry="5.9"/><ellipse cx="205.6" cy="277.5" rx="2.5" ry="4.0" fill="#f03424" stroke="#c91e16"/></g>
<g fill="#002060"><polygon points="266.6,172.5 203.5,117.2 208.3,111.8 187.8,113.1 189.1,133.6 193.9,128.1 257.0,183.5"/><polygon points="240.9,185.8 158.4,203.2 157.0,196.4 145.4,213.4 162.8,224.3 161.4,217.5 243.9,200.2"/><polygon points="290.5,206.7 346.8,245.8 342.3,252.3 363.2,248.5 359.4,227.6 355.0,234.0 298.7,194.9"/></g>
<text x="290.4" y="8.3" textLength="74.8" lengthAdjust="spacingAndGlyphs" font-family="'Liberation Sans', sans-serif" font-size="8.3" font-weight="bold" fill="#000" stroke="#000" stroke-width="0.22">Alaa data-NMR.M2 (PCA-X)</text><text x="262.3" y="19.3" textLength="131.4" lengthAdjust="spacingAndGlyphs" font-family="'Liberation Sans', sans-serif" font-size="8.3" font-weight="bold" fill="#000" stroke="#000" stroke-width="0.22">Colored according to values in DS1.Var ID (ppm)</text><text x="245.1" y="194.3" font-family="'Liberation Sans', sans-serif" font-size="14" font-weight="bold" fill="#000">Discriminatory metabolites (ppm)</text><text x="20.9" y="61.3" textLength="10.2" lengthAdjust="spacingAndGlyphs" font-family="'Liberation Sans', sans-serif" font-size="7.6" font-weight="bold" fill="#000" stroke="#000" stroke-width="0.22">0.35</text><text x="23.8" y="92.6" textLength="7.3" lengthAdjust="spacingAndGlyphs" font-family="'Liberation Sans', sans-serif" font-size="7.6" font-weight="bold" fill="#000" stroke="#000" stroke-width="0.22">0.3</text><text x="20.9" y="123.9" textLength="10.2" lengthAdjust="spacingAndGlyphs" font-family="'Liberation Sans', sans-serif" font-size="7.6" font-weight="bold" fill="#000" stroke="#000" stroke-width="0.22">0.25</text><text x="23.8" y="155.2" textLength="7.3" lengthAdjust="spacingAndGlyphs" font-family="'Liberation Sans', sans-serif" font-size="7.6" font-weight="bold" fill="#000" stroke="#000" stroke-width="0.22">0.2</text><text x="20.9" y="186.5" textLength="10.2" lengthAdjust="spacingAndGlyphs" font-family="'Liberation Sans', sans-serif" font-size="7.6" font-weight="bold" fill="#000" stroke="#000" stroke-width="0.22">0.15</text><text x="23.8" y="217.8" textLength="7.3" lengthAdjust="spacingAndGlyphs" font-family="'Liberation Sans', sans-serif" font-size="7.6" font-weight="bold" fill="#000" stroke="#000" stroke-width="0.22">0.1</text><text x="20.9" y="249.1" textLength="10.2" lengthAdjust="spacingAndGlyphs" font-family="'Liberation Sans', sans-serif" font-size="7.6" font-weight="bold" fill="#000" stroke="#000" stroke-width="0.22">0.05</text><text x="28.2" y="280.4" textLength="2.9" lengthAdjust="spacingAndGlyphs" font-family="'Liberation Sans', sans-serif" font-size="7.6" font-weight="bold" fill="#000" stroke="#000" stroke-width="0.22">0</text><text x="19.1" y="311.7" textLength="12.0" lengthAdjust="spacingAndGlyphs" font-family="'Liberation Sans', sans-serif" font-size="7.6" font-weight="bold" fill="#000" stroke="#000" stroke-width="0.22">-0.05</text><text x="22.1" y="343.0" textLength="9.0" lengthAdjust="spacingAndGlyphs" font-family="'Liberation Sans', sans-serif" font-size="7.6" font-weight="bold" fill="#000" stroke="#000" stroke-width="0.22">-0.1</text><text x="29.3" y="352.5" textLength="9.0" lengthAdjust="spacingAndGlyphs" font-family="'Liberation Sans', sans-serif" font-size="7.4" font-weight="bold" fill="#000" stroke="#000" stroke-width="0.22">-0.1</text><text x="114.1" y="352.5" textLength="12.0" lengthAdjust="spacingAndGlyphs" font-family="'Liberation Sans', sans-serif" font-size="7.4" font-weight="bold" fill="#000" stroke="#000" stroke-width="0.22">-0.05</text><text x="205.5" y="352.5" textLength="3.0" lengthAdjust="spacingAndGlyphs" font-family="'Liberation Sans', sans-serif" font-size="7.4" font-weight="bold" fill="#000" stroke="#000" stroke-width="0.22">0</text><text x="288.2" y="352.5" textLength="10.2" lengthAdjust="spacingAndGlyphs" font-family="'Liberation Sans', sans-serif" font-size="7.4" font-weight="bold" fill="#000" stroke="#000" stroke-width="0.22">0.05</text><text x="376.0" y="352.5" textLength="7.2" lengthAdjust="spacingAndGlyphs" font-family="'Liberation Sans', sans-serif" font-size="7.4" font-weight="bold" fill="#000" stroke="#000" stroke-width="0.22">0.1</text><text x="460.8" y="352.5" textLength="10.2" lengthAdjust="spacingAndGlyphs" font-family="'Liberation Sans', sans-serif" font-size="7.4" font-weight="bold" fill="#000" stroke="#000" stroke-width="0.22">0.15</text><text x="548.6" y="352.5" textLength="7.2" lengthAdjust="spacingAndGlyphs" font-family="'Liberation Sans', sans-serif" font-size="7.4" font-weight="bold" fill="#000" stroke="#000" stroke-width="0.22">0.2</text><text transform="translate(17.8,183.4) rotate(-90) scale(1,0.75)" font-family="'Liberation Sans', sans-serif" font-size="7.3" font-weight="bold" text-anchor="middle" stroke="#000" stroke-width="0.18">p[2]</text><text x="331.8" y="361.8" textLength="9.5" lengthAdjust="spacingAndGlyphs" font-family="'Liberation Sans', sans-serif" font-size="7.6" font-weight="bold" fill="#000" stroke="#000" stroke-width="0.22">p[1]</text><text x="275.4" y="370.4" textLength="104.2" lengthAdjust="spacingAndGlyphs" font-family="'Liberation Mono', sans-serif" font-size="9.4" font-weight="normal" fill="#000" stroke="#000" stroke-width="0.12">R2X[1] = 0.599 R2X[2] = 0.127</text><text x="568" y="375.9" textLength="117.5" lengthAdjust="spacingAndGlyphs" font-family="'Liberation Sans', sans-serif" font-size="7.7" font-weight="bold" fill="#707070" >SIMCA 14.1 - 17/02/2025 09:52:56 &#1605; (UTC+</text><rect x="643.3" y="0.9" width="6.7" height="9.2" fill="#1f78bd"/><text x="650.9" y="8.4" textLength="30.5" lengthAdjust="spacingAndGlyphs" font-family="'Liberation Sans', sans-serif" font-size="7.3" font-weight="bold" fill="#000" stroke="#000" stroke-width="0.22">0.001 - 3.171</text><rect x="643.3" y="12.8" width="6.7" height="9.2" fill="#20b473"/><text x="650.9" y="20.3" textLength="30.5" lengthAdjust="spacingAndGlyphs" font-family="'Liberation Sans', sans-serif" font-size="7.3" font-weight="bold" fill="#000" stroke="#000" stroke-width="0.22">3.171 - 6.341</text><rect x="643.3" y="24.7" width="6.7" height="9.2" fill="#a52d6e"/><text x="650.9" y="32.2" textLength="30.5" lengthAdjust="spacingAndGlyphs" font-family="'Liberation Sans', sans-serif" font-size="7.3" font-weight="bold" fill="#000" stroke="#000" stroke-width="0.22">6.341 - 9.511</text><rect x="643.3" y="36.6" width="6.7" height="9.2" fill="#d9bd1c"/><text x="650.9" y="44.1" textLength="33.3" lengthAdjust="spacingAndGlyphs" font-family="'Liberation Sans', sans-serif" font-size="7.3" font-weight="bold" fill="#000" stroke="#000" stroke-width="0.22">9.511 - 12.681</text><rect x="643.3" y="48.5" width="6.7" height="9.2" fill="#e3261c"/><text x="650.9" y="56.0" textLength="36.2" lengthAdjust="spacingAndGlyphs" font-family="'Liberation Sans', sans-serif" font-size="7.3" font-weight="bold" fill="#000" stroke="#000" stroke-width="0.22">12.681 - 15.851</text>
</svg>
</body></html>
